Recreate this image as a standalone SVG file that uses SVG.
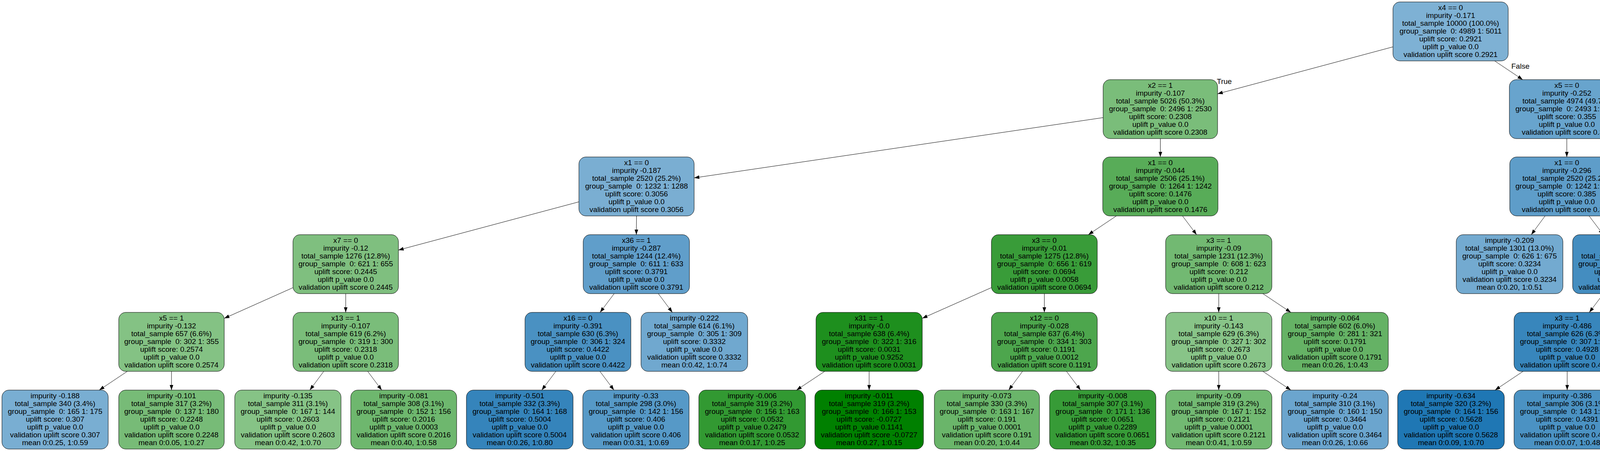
<svg xmlns="http://www.w3.org/2000/svg" width="6087" height="1155" viewBox="0 0 6087 1155">
<style>
.node rect{stroke:#000;stroke-width:1}
.node text,.lbl{font-family:"Liberation Sans",Arial,Helvetica,sans-serif;font-size:19px;fill:#000}
.node text{text-anchor:middle}
.e{stroke:#000;stroke-width:1;fill:none;marker-end:url(#arr)}
</style>
<defs>
<marker id="arr" markerUnits="userSpaceOnUse" markerWidth="14" markerHeight="10" refX="13.3" refY="4.67" orient="auto"><path d="M0,0 L13.3,4.67 L0,9.34 z" fill="#000"/></marker>
</defs>
<rect width="6087" height="1155" fill="#fff"/>
<g id="edges">
<line class="e" x1="3566" y1="120" x2="3117" y2="240.3"/>
<line class="e" x1="3826.4" y1="156" x2="3898.1" y2="204"/>
<line class="e" x1="2824" y1="301.2" x2="1777" y2="455.6"/>
<line class="e" x1="2970.5" y1="355" x2="2970.5" y2="402"/>
<line class="e" x1="4011" y1="355" x2="4011" y2="402"/>
<line class="e" x1="4158" y1="307.6" x2="4904" y2="449.3"/>
<line class="e" x1="1482" y1="516.9" x2="1020" y2="640.4"/>
<line class="e" x1="1629.5" y1="553" x2="1629" y2="601"/>
<line class="e" x1="2857.8" y1="553" x2="2786.2" y2="601"/>
<line class="e" x1="3027.2" y1="553" x2="3063.3" y2="601"/>
<line class="e" x1="3955.4" y1="553" x2="3920.1" y2="601"/>
<line class="e" x1="4068.1" y1="553" x2="4104.4" y2="601"/>
<line class="e" x1="5051.5" y1="553" x2="5052.5" y2="601"/>
<line class="e" x1="5199" y1="543.1" x2="5363" y2="616"/>
<line class="e" x1="750" y1="736.7" x2="574" y2="815.3"/>
<line class="e" x1="885" y1="752" x2="885" y2="800"/>
<line class="e" x1="1572.3" y1="752" x2="1536.2" y2="800"/>
<line class="e" x1="1685.3" y1="752" x2="1721.2" y2="800"/>
<line class="e" x1="2538" y1="736.6" x2="2361" y2="815.2"/>
<line class="e" x1="2673.5" y1="752" x2="2673.5" y2="800"/>
<line class="e" x1="3120" y1="752" x2="3120" y2="800"/>
<line class="e" x1="3232.9" y1="752" x2="3304.6" y2="800"/>
<line class="e" x1="4104.8" y1="752" x2="4068.7" y2="800"/>
<line class="e" x1="4217.7" y1="752" x2="4253.3" y2="800"/>
<line class="e" x1="4996.2" y1="752" x2="4960.3" y2="800"/>
<line class="e" x1="5108.8" y1="752" x2="5144.7" y2="800"/>
<line class="e" x1="5499" y1="752" x2="5499" y2="800"/>
<line class="e" x1="5611.7" y1="752" x2="5683.3" y2="800"/>
<line class="e" x1="325.9" y1="951" x2="254.1" y2="999"/>
<line class="e" x1="439" y1="951" x2="439" y2="999"/>
<line class="e" x1="828.8" y1="951" x2="793.2" y2="999"/>
<line class="e" x1="941.3" y1="951" x2="977.2" y2="999"/>
<line class="e" x1="1423" y1="951" x2="1387" y2="999"/>
<line class="e" x1="1535.8" y1="951" x2="1571.7" y2="999"/>
<line class="e" x1="2111.4" y1="951" x2="2039.1" y2="999"/>
<line class="e" x1="2225" y1="951" x2="2225" y2="999"/>
<line class="e" x1="2617.7" y1="951" x2="2582.3" y2="999"/>
<line class="e" x1="2730.2" y1="951" x2="2766.3" y2="999"/>
<line class="e" x1="3120" y1="951" x2="3120" y2="999"/>
<line class="e" x1="3232.9" y1="951" x2="3304.6" y2="999"/>
<line class="e" x1="3899.1" y1="951" x2="3827.4" y2="999"/>
<line class="e" x1="4012" y1="951" x2="4012" y2="999"/>
<line class="e" x1="4309.5" y1="951" x2="4309.5" y2="999"/>
<line class="e" x1="4422.2" y1="951" x2="4493.8" y2="999"/>
<line class="e" x1="4904" y1="951" x2="4904" y2="999"/>
<line class="e" x1="5016.7" y1="951" x2="5088.3" y2="999"/>
<line class="e" x1="5739.7" y1="951" x2="5703.8" y2="999"/>
<line class="e" x1="5852.5" y1="951" x2="5888.5" y2="999"/>
<text class="lbl" x="3115" y="215">True</text>
<text class="lbl" x="3869" y="176">False</text>
</g>
<g id="n-R" class="node"><rect x="3566" y="5" width="295" height="151" rx="18" fill="#7eb1d4"/><text y="26"><tspan x="3713.5">x4 == 0</tspan><tspan x="3713.5" dy="20">impurity -0.171</tspan><tspan x="3713.5" dy="20">total_sample 10000 (100.0%)</tspan><tspan x="3713.5" dy="20">group_sample&#160; 0: 4989 1: 5011</tspan><tspan x="3713.5" dy="20">uplift score: 0.2921</tspan><tspan x="3713.5" dy="20">uplift p_value 0.0</tspan><tspan x="3713.5" dy="20">validation uplift score 0.2921</tspan></text></g>
<g id="n-A" class="node"><rect x="2824" y="204" width="293" height="151" rx="18" fill="#7abd7a"/><text y="225"><tspan x="2970.5">x2 == 1</tspan><tspan x="2970.5" dy="20">impurity -0.107</tspan><tspan x="2970.5" dy="20">total_sample 5026 (50.3%)</tspan><tspan x="2970.5" dy="20">group_sample&#160; 0: 2496 1: 2530</tspan><tspan x="2970.5" dy="20">uplift score: 0.2308</tspan><tspan x="2970.5" dy="20">uplift p_value 0.0</tspan><tspan x="2970.5" dy="20">validation uplift score 0.2308</tspan></text></g>
<g id="n-B" class="node"><rect x="3864" y="204" width="294" height="151" rx="18" fill="#68a4cd"/><text y="225"><tspan x="4011">x5 == 0</tspan><tspan x="4011" dy="20">impurity -0.252</tspan><tspan x="4011" dy="20">total_sample 4974 (49.7%)</tspan><tspan x="4011" dy="20">group_sample&#160; 0: 2493 1: 2481</tspan><tspan x="4011" dy="20">uplift score: 0.355</tspan><tspan x="4011" dy="20">uplift p_value 0.0</tspan><tspan x="4011" dy="20">validation uplift score 0.355</tspan></text></g>
<g id="n-C" class="node"><rect x="1482" y="402" width="295" height="151" rx="18" fill="#7aaed2"/><text y="423"><tspan x="1629.5">x1 == 0</tspan><tspan x="1629.5" dy="20">impurity -0.187</tspan><tspan x="1629.5" dy="20">total_sample 2520 (25.2%)</tspan><tspan x="1629.5" dy="20">group_sample&#160; 0: 1232 1: 1288</tspan><tspan x="1629.5" dy="20">uplift score: 0.3056</tspan><tspan x="1629.5" dy="20">uplift p_value 0.0</tspan><tspan x="1629.5" dy="20">validation uplift score 0.3056</tspan></text></g>
<g id="n-D" class="node"><rect x="2823" y="402" width="295" height="151" rx="18" fill="#58ac58"/><text y="423"><tspan x="2970.5">x1 == 0</tspan><tspan x="2970.5" dy="20">impurity -0.044</tspan><tspan x="2970.5" dy="20">total_sample 2506 (25.1%)</tspan><tspan x="2970.5" dy="20">group_sample&#160; 0: 1264 1: 1242</tspan><tspan x="2970.5" dy="20">uplift score: 0.1476</tspan><tspan x="2970.5" dy="20">uplift p_value 0.0</tspan><tspan x="2970.5" dy="20">validation uplift score 0.1476</tspan></text></g>
<g id="n-E" class="node"><rect x="3865" y="402" width="292" height="151" rx="18" fill="#5e9dc9"/><text y="423"><tspan x="4011">x1 == 0</tspan><tspan x="4011" dy="20">impurity -0.296</tspan><tspan x="4011" dy="20">total_sample 2520 (25.2%)</tspan><tspan x="4011" dy="20">group_sample&#160; 0: 1242 1: 1278</tspan><tspan x="4011" dy="20">uplift score: 0.385</tspan><tspan x="4011" dy="20">uplift p_value 0.0</tspan><tspan x="4011" dy="20">validation uplift score 0.385</tspan></text></g>
<g id="n-F" class="node"><rect x="4904" y="402" width="295" height="151" rx="18" fill="#6fa8cf"/><text y="423"><tspan x="5051.5">x7 == 0</tspan><tspan x="5051.5" dy="20">impurity -0.226</tspan><tspan x="5051.5" dy="20">total_sample 2454 (24.5%)</tspan><tspan x="5051.5" dy="20">group_sample&#160; 0: 1251 1: 1203</tspan><tspan x="5051.5" dy="20">uplift score: 0.3362</tspan><tspan x="5051.5" dy="20">uplift p_value 0.0</tspan><tspan x="5051.5" dy="20">validation uplift score 0.3362</tspan></text></g>
<g id="n-G" class="node"><rect x="750" y="601" width="270" height="151" rx="18" fill="#7fbf7f"/><text y="622"><tspan x="885">x7 == 0</tspan><tspan x="885" dy="20">impurity -0.12</tspan><tspan x="885" dy="20">total_sample 1276 (12.8%)</tspan><tspan x="885" dy="20">group_sample&#160; 0: 621 1: 655</tspan><tspan x="885" dy="20">uplift score: 0.2445</tspan><tspan x="885" dy="20">uplift p_value 0.0</tspan><tspan x="885" dy="20">validation uplift score 0.2445</tspan></text></g>
<g id="n-H" class="node"><rect x="1493" y="601" width="272" height="151" rx="18" fill="#609eca"/><text y="622"><tspan x="1629">x36 == 1</tspan><tspan x="1629" dy="20">impurity -0.287</tspan><tspan x="1629" dy="20">total_sample 1244 (12.4%)</tspan><tspan x="1629" dy="20">group_sample&#160; 0: 611 1: 633</tspan><tspan x="1629" dy="20">uplift score: 0.3791</tspan><tspan x="1629" dy="20">uplift p_value 0.0</tspan><tspan x="1629" dy="20">validation uplift score 0.3791</tspan></text></g>
<g id="n-I" class="node"><rect x="2538" y="601" width="271" height="151" rx="18" fill="#399c39"/><text y="622"><tspan x="2673.5">x3 == 0</tspan><tspan x="2673.5" dy="20">impurity -0.01</tspan><tspan x="2673.5" dy="20">total_sample 1275 (12.8%)</tspan><tspan x="2673.5" dy="20">group_sample&#160; 0: 656 1: 619</tspan><tspan x="2673.5" dy="20">uplift score: 0.0694</tspan><tspan x="2673.5" dy="20">uplift p_value 0.0058</tspan><tspan x="2673.5" dy="20">validation uplift score 0.0694</tspan></text></g>
<g id="n-J" class="node"><rect x="2984" y="601" width="272" height="151" rx="18" fill="#72b972"/><text y="622"><tspan x="3120">x3 == 1</tspan><tspan x="3120" dy="20">impurity -0.09</tspan><tspan x="3120" dy="20">total_sample 1231 (12.3%)</tspan><tspan x="3120" dy="20">group_sample&#160; 0: 608 1: 623</tspan><tspan x="3120" dy="20">uplift score: 0.212</tspan><tspan x="3120" dy="20">uplift p_value 0.0</tspan><tspan x="3120" dy="20">validation uplift score 0.212</tspan></text></g>
<g id="n-K" class="node"><rect x="3728" y="601" width="273" height="151" rx="18" fill="#73aad0"/><text y="622"><tspan x="3864.5">impurity -0.209</tspan><tspan x="3864.5" dy="20">total_sample 1301 (13.0%)</tspan><tspan x="3864.5" dy="20">group_sample&#160; 0: 626 1: 675</tspan><tspan x="3864.5" dy="20">uplift score: 0.3234</tspan><tspan x="3864.5" dy="20">uplift p_value 0.0</tspan><tspan x="3864.5" dy="20">validation uplift score 0.3234</tspan><tspan x="3864.5" dy="20">mean 0:0.20, 1:0.51</tspan></text></g>
<g id="n-L" class="node"><rect x="4026" y="601" width="271" height="151" rx="18" fill="#448dc0"/><text y="622"><tspan x="4161.5">x6 == 0</tspan><tspan x="4161.5" dy="20">impurity -0.421</tspan><tspan x="4161.5" dy="20">total_sample 1219 (12.2%)</tspan><tspan x="4161.5" dy="20">group_sample&#160; 0: 616 1: 603</tspan><tspan x="4161.5" dy="20">uplift score: 0.4586</tspan><tspan x="4161.5" dy="20">uplift p_value 0.0</tspan><tspan x="4161.5" dy="20">validation uplift score 0.4586</tspan></text></g>
<g id="n-M" class="node"><rect x="4917" y="601" width="271" height="151" rx="18" fill="#5195c5"/><text y="622"><tspan x="5052.5">x3 == 1</tspan><tspan x="5052.5" dy="20">impurity -0.356</tspan><tspan x="5052.5" dy="20">total_sample 1250 (12.5%)</tspan><tspan x="5052.5" dy="20">group_sample&#160; 0: 630 1: 620</tspan><tspan x="5052.5" dy="20">uplift score: 0.4218</tspan><tspan x="5052.5" dy="20">uplift p_value 0.0</tspan><tspan x="5052.5" dy="20">validation uplift score 0.4218</tspan></text></g>
<g id="n-N" class="node"><rect x="5363" y="601" width="272" height="151" rx="18" fill="#82c182"/><text y="622"><tspan x="5499">x6 == 1</tspan><tspan x="5499" dy="20">impurity -0.126</tspan><tspan x="5499" dy="20">total_sample 1204 (12.0%)</tspan><tspan x="5499" dy="20">group_sample&#160; 0: 621 1: 583</tspan><tspan x="5499" dy="20">uplift score: 0.2507</tspan><tspan x="5499" dy="20">uplift p_value 0.0</tspan><tspan x="5499" dy="20">validation uplift score 0.2507</tspan></text></g>
<g id="n-G1" class="node"><rect x="304" y="800" width="270" height="151" rx="18" fill="#84c284"/><text y="821"><tspan x="439">x5 == 1</tspan><tspan x="439" dy="20">impurity -0.132</tspan><tspan x="439" dy="20">total_sample 657 (6.6%)</tspan><tspan x="439" dy="20">group_sample&#160; 0: 302 1: 355</tspan><tspan x="439" dy="20">uplift score: 0.2574</tspan><tspan x="439" dy="20">uplift p_value 0.0</tspan><tspan x="439" dy="20">validation uplift score 0.2574</tspan></text></g>
<g id="n-G2" class="node"><rect x="750" y="800" width="270" height="151" rx="18" fill="#7abd7a"/><text y="821"><tspan x="885">x13 == 1</tspan><tspan x="885" dy="20">impurity -0.107</tspan><tspan x="885" dy="20">total_sample 619 (6.2%)</tspan><tspan x="885" dy="20">group_sample&#160; 0: 319 1: 300</tspan><tspan x="885" dy="20">uplift score: 0.2318</tspan><tspan x="885" dy="20">uplift p_value 0.0</tspan><tspan x="885" dy="20">validation uplift score 0.2318</tspan></text></g>
<g id="n-H1" class="node"><rect x="1344" y="800" width="271" height="151" rx="18" fill="#4a91c2"/><text y="821"><tspan x="1479.5">x16 == 0</tspan><tspan x="1479.5" dy="20">impurity -0.391</tspan><tspan x="1479.5" dy="20">total_sample 630 (6.3%)</tspan><tspan x="1479.5" dy="20">group_sample&#160; 0: 306 1: 324</tspan><tspan x="1479.5" dy="20">uplift score: 0.4422</tspan><tspan x="1479.5" dy="20">uplift p_value 0.0</tspan><tspan x="1479.5" dy="20">validation uplift score 0.4422</tspan></text></g>
<g id="n-H2" class="node"><rect x="1641" y="800" width="273" height="151" rx="18" fill="#70a8cf"/><text y="821"><tspan x="1777.5">impurity -0.222</tspan><tspan x="1777.5" dy="20">total_sample 614 (6.1%)</tspan><tspan x="1777.5" dy="20">group_sample&#160; 0: 305 1: 309</tspan><tspan x="1777.5" dy="20">uplift score: 0.3332</tspan><tspan x="1777.5" dy="20">uplift p_value 0.0</tspan><tspan x="1777.5" dy="20">validation uplift score 0.3332</tspan><tspan x="1777.5" dy="20">mean 0:0.42, 1:0.74</tspan></text></g>
<g id="n-I1" class="node"><rect x="2089" y="800" width="272" height="151" rx="18" fill="#1e8f1e"/><text y="821"><tspan x="2225">x31 == 1</tspan><tspan x="2225" dy="20">impurity -0.0</tspan><tspan x="2225" dy="20">total_sample 638 (6.4%)</tspan><tspan x="2225" dy="20">group_sample&#160; 0: 322 1: 316</tspan><tspan x="2225" dy="20">uplift score: 0.0031</tspan><tspan x="2225" dy="20">uplift p_value 0.9252</tspan><tspan x="2225" dy="20">validation uplift score 0.0031</tspan></text></g>
<g id="n-I2" class="node"><rect x="2538" y="800" width="271" height="151" rx="18" fill="#4da64d"/><text y="821"><tspan x="2673.5">x12 == 0</tspan><tspan x="2673.5" dy="20">impurity -0.028</tspan><tspan x="2673.5" dy="20">total_sample 637 (6.4%)</tspan><tspan x="2673.5" dy="20">group_sample&#160; 0: 334 1: 303</tspan><tspan x="2673.5" dy="20">uplift score: 0.1191</tspan><tspan x="2673.5" dy="20">uplift p_value 0.0012</tspan><tspan x="2673.5" dy="20">validation uplift score 0.1191</tspan></text></g>
<g id="n-J1" class="node"><rect x="2984" y="800" width="272" height="151" rx="18" fill="#88c488"/><text y="821"><tspan x="3120">x10 == 1</tspan><tspan x="3120" dy="20">impurity -0.143</tspan><tspan x="3120" dy="20">total_sample 629 (6.3%)</tspan><tspan x="3120" dy="20">group_sample&#160; 0: 327 1: 302</tspan><tspan x="3120" dy="20">uplift score: 0.2673</tspan><tspan x="3120" dy="20">uplift p_value 0.0</tspan><tspan x="3120" dy="20">validation uplift score 0.2673</tspan></text></g>
<g id="n-J2" class="node"><rect x="3281" y="800" width="273" height="151" rx="18" fill="#65b265"/><text y="821"><tspan x="3417.5">impurity -0.064</tspan><tspan x="3417.5" dy="20">total_sample 602 (6.0%)</tspan><tspan x="3417.5" dy="20">group_sample&#160; 0: 281 1: 321</tspan><tspan x="3417.5" dy="20">uplift score: 0.1791</tspan><tspan x="3417.5" dy="20">uplift p_value 0.0</tspan><tspan x="3417.5" dy="20">validation uplift score 0.1791</tspan><tspan x="3417.5" dy="20">mean 0:0.26, 1:0.43</tspan></text></g>
<g id="n-L1" class="node"><rect x="3876" y="800" width="272" height="151" rx="18" fill="#3886bc"/><text y="821"><tspan x="4012">x3 == 1</tspan><tspan x="4012" dy="20">impurity -0.486</tspan><tspan x="4012" dy="20">total_sample 626 (6.3%)</tspan><tspan x="4012" dy="20">group_sample&#160; 0: 307 1: 319</tspan><tspan x="4012" dy="20">uplift score: 0.4928</tspan><tspan x="4012" dy="20">uplift p_value 0.0</tspan><tspan x="4012" dy="20">validation uplift score 0.4928</tspan></text></g>
<g id="n-L2" class="node"><rect x="4175" y="800" width="269" height="151" rx="18" fill="#468fc1"/><text y="821"><tspan x="4309.5">x8 == 0</tspan><tspan x="4309.5" dy="20">impurity -0.407</tspan><tspan x="4309.5" dy="20">total_sample 593 (5.9%)</tspan><tspan x="4309.5" dy="20">group_sample&#160; 0: 309 1: 284</tspan><tspan x="4309.5" dy="20">uplift score: 0.4511</tspan><tspan x="4309.5" dy="20">uplift p_value 0.0</tspan><tspan x="4309.5" dy="20">validation uplift score 0.4511</tspan></text></g>
<g id="n-M1" class="node"><rect x="4769" y="800" width="270" height="151" rx="18" fill="#3786bc"/><text y="821"><tspan x="4904">x6 == 0</tspan><tspan x="4904" dy="20">impurity -0.489</tspan><tspan x="4904" dy="20">total_sample 629 (6.3%)</tspan><tspan x="4904" dy="20">group_sample&#160; 0: 325 1: 304</tspan><tspan x="4904" dy="20">uplift score: 0.4943</tspan><tspan x="4904" dy="20">uplift p_value 0.0</tspan><tspan x="4904" dy="20">validation uplift score 0.4943</tspan></text></g>
<g id="n-M2" class="node"><rect x="5066" y="800" width="270" height="151" rx="18" fill="#62a0ca"/><text y="821"><tspan x="5201">impurity -0.278</tspan><tspan x="5201" dy="20">total_sample 621 (6.2%)</tspan><tspan x="5201" dy="20">group_sample&#160; 0: 305 1: 316</tspan><tspan x="5201" dy="20">uplift score: 0.3731</tspan><tspan x="5201" dy="20">uplift p_value 0.0</tspan><tspan x="5201" dy="20">validation uplift score 0.3731</tspan><tspan x="5201" dy="20">mean 0:0.26, 1:0.62</tspan></text></g>
<g id="n-N1" class="node"><rect x="5363" y="800" width="272" height="151" rx="18" fill="#5eaf5e"/><text y="821"><tspan x="5499">impurity -0.051</tspan><tspan x="5499" dy="20">total_sample 626 (6.3%)</tspan><tspan x="5499" dy="20">group_sample&#160; 0: 328 1: 298</tspan><tspan x="5499" dy="20">uplift score: 0.1603</tspan><tspan x="5499" dy="20">uplift p_value 0.0</tspan><tspan x="5499" dy="20">validation uplift score 0.1603</tspan><tspan x="5499" dy="20">mean 0:0.84, 1:0.97</tspan></text></g>
<g id="n-N2" class="node"><rect x="5661" y="800" width="270" height="151" rx="18" fill="#71a9cf"/><text y="821"><tspan x="5796">x21 == 0</tspan><tspan x="5796" dy="20">impurity -0.219</tspan><tspan x="5796" dy="20">total_sample 578 (5.8%)</tspan><tspan x="5796" dy="20">group_sample&#160; 0: 293 1: 285</tspan><tspan x="5796" dy="20">uplift score: 0.3308</tspan><tspan x="5796" dy="20">uplift p_value 0.0</tspan><tspan x="5796" dy="20">validation uplift score 0.3308</tspan></text></g>
<g id="n-G1a" class="node"><rect x="5" y="999" width="272" height="151" rx="18" fill="#79aed2"/><text y="1020"><tspan x="141">impurity -0.188</tspan><tspan x="141" dy="20">total_sample 340 (3.4%)</tspan><tspan x="141" dy="20">group_sample&#160; 0: 165 1: 175</tspan><tspan x="141" dy="20">uplift score: 0.307</tspan><tspan x="141" dy="20">uplift p_value 0.0</tspan><tspan x="141" dy="20">validation uplift score 0.307</tspan><tspan x="141" dy="20">mean 0:0.25, 1:0.59</tspan></text></g>
<g id="n-G1b" class="node"><rect x="304" y="999" width="270" height="151" rx="18" fill="#77bb77"/><text y="1020"><tspan x="439">impurity -0.101</tspan><tspan x="439" dy="20">total_sample 317 (3.2%)</tspan><tspan x="439" dy="20">group_sample&#160; 0: 137 1: 180</tspan><tspan x="439" dy="20">uplift score: 0.2248</tspan><tspan x="439" dy="20">uplift p_value 0.0</tspan><tspan x="439" dy="20">validation uplift score 0.2248</tspan><tspan x="439" dy="20">mean 0:0.05, 1:0.27</tspan></text></g>
<g id="n-G2a" class="node"><rect x="601" y="999" width="272" height="151" rx="18" fill="#86c386"/><text y="1020"><tspan x="737">impurity -0.135</tspan><tspan x="737" dy="20">total_sample 311 (3.1%)</tspan><tspan x="737" dy="20">group_sample&#160; 0: 167 1: 144</tspan><tspan x="737" dy="20">uplift score: 0.2603</tspan><tspan x="737" dy="20">uplift p_value 0.0</tspan><tspan x="737" dy="20">validation uplift score 0.2603</tspan><tspan x="737" dy="20">mean 0:0.42, 1:0.70</tspan></text></g>
<g id="n-G2b" class="node"><rect x="898" y="999" width="271" height="151" rx="18" fill="#6eb76e"/><text y="1020"><tspan x="1033.5">impurity -0.081</tspan><tspan x="1033.5" dy="20">total_sample 308 (3.1%)</tspan><tspan x="1033.5" dy="20">group_sample&#160; 0: 152 1: 156</tspan><tspan x="1033.5" dy="20">uplift score: 0.2016</tspan><tspan x="1033.5" dy="20">uplift p_value 0.0003</tspan><tspan x="1033.5" dy="20">validation uplift score 0.2016</tspan><tspan x="1033.5" dy="20">mean 0:0.40, 1:0.58</tspan></text></g>
<g id="n-H1a" class="node"><rect x="1194" y="999" width="273" height="151" rx="18" fill="#3584bb"/><text y="1020"><tspan x="1330.5">impurity -0.501</tspan><tspan x="1330.5" dy="20">total_sample 332 (3.3%)</tspan><tspan x="1330.5" dy="20">group_sample&#160; 0: 164 1: 168</tspan><tspan x="1330.5" dy="20">uplift score: 0.5004</tspan><tspan x="1330.5" dy="20">uplift p_value 0.0</tspan><tspan x="1330.5" dy="20">validation uplift score 0.5004</tspan><tspan x="1330.5" dy="20">mean 0:0.26, 1:0.80</tspan></text></g>
<g id="n-H1b" class="node"><rect x="1492" y="999" width="272" height="151" rx="18" fill="#5699c7"/><text y="1020"><tspan x="1628">impurity -0.33</tspan><tspan x="1628" dy="20">total_sample 298 (3.0%)</tspan><tspan x="1628" dy="20">group_sample&#160; 0: 142 1: 156</tspan><tspan x="1628" dy="20">uplift score: 0.406</tspan><tspan x="1628" dy="20">uplift p_value 0.0</tspan><tspan x="1628" dy="20">validation uplift score 0.406</tspan><tspan x="1628" dy="20">mean 0:0.31, 1:0.69</tspan></text></g>
<g id="n-I1a" class="node"><rect x="1789" y="999" width="273" height="151" rx="18" fill="#329932"/><text y="1020"><tspan x="1925.5">impurity -0.006</tspan><tspan x="1925.5" dy="20">total_sample 319 (3.2%)</tspan><tspan x="1925.5" dy="20">group_sample&#160; 0: 156 1: 163</tspan><tspan x="1925.5" dy="20">uplift score: 0.0532</tspan><tspan x="1925.5" dy="20">uplift p_value 0.2479</tspan><tspan x="1925.5" dy="20">validation uplift score 0.0532</tspan><tspan x="1925.5" dy="20">mean 0:0.17, 1:0.25</tspan></text></g>
<g id="n-I1b" class="node"><rect x="2086" y="999" width="278" height="151" rx="18" fill="#008000"/><text y="1020"><tspan x="2225">impurity -0.011</tspan><tspan x="2225" dy="20">total_sample 319 (3.2%)</tspan><tspan x="2225" dy="20">group_sample&#160; 0: 166 1: 153</tspan><tspan x="2225" dy="20">uplift score: -0.0727</tspan><tspan x="2225" dy="20">uplift p_value 0.1141</tspan><tspan x="2225" dy="20">validation uplift score -0.0727</tspan><tspan x="2225" dy="20">mean 0:0.27, 1:0.15</tspan></text></g>
<g id="n-I2a" class="node"><rect x="2392" y="999" width="269" height="151" rx="18" fill="#6ab56a"/><text y="1020"><tspan x="2526.5">impurity -0.073</tspan><tspan x="2526.5" dy="20">total_sample 330 (3.3%)</tspan><tspan x="2526.5" dy="20">group_sample&#160; 0: 163 1: 167</tspan><tspan x="2526.5" dy="20">uplift score: 0.191</tspan><tspan x="2526.5" dy="20">uplift p_value 0.0001</tspan><tspan x="2526.5" dy="20">validation uplift score 0.191</tspan><tspan x="2526.5" dy="20">mean 0:0.20, 1:0.44</tspan></text></g>
<g id="n-I2b" class="node"><rect x="2687" y="999" width="272" height="151" rx="18" fill="#379b37"/><text y="1020"><tspan x="2823">impurity -0.008</tspan><tspan x="2823" dy="20">total_sample 307 (3.1%)</tspan><tspan x="2823" dy="20">group_sample&#160; 0: 171 1: 136</tspan><tspan x="2823" dy="20">uplift score: 0.0651</tspan><tspan x="2823" dy="20">uplift p_value 0.2289</tspan><tspan x="2823" dy="20">validation uplift score 0.0651</tspan><tspan x="2823" dy="20">mean 0:0.32, 1:0.35</tspan></text></g>
<g id="n-J1a" class="node"><rect x="2984" y="999" width="272" height="151" rx="18" fill="#72b972"/><text y="1020"><tspan x="3120">impurity -0.09</tspan><tspan x="3120" dy="20">total_sample 319 (3.2%)</tspan><tspan x="3120" dy="20">group_sample&#160; 0: 167 1: 152</tspan><tspan x="3120" dy="20">uplift score: 0.2121</tspan><tspan x="3120" dy="20">uplift p_value 0.0001</tspan><tspan x="3120" dy="20">validation uplift score 0.2121</tspan><tspan x="3120" dy="20">mean 0:0.41, 1:0.59</tspan></text></g>
<g id="n-J1b" class="node"><rect x="3281" y="999" width="273" height="151" rx="18" fill="#6ba5ce"/><text y="1020"><tspan x="3417.5">impurity -0.24</tspan><tspan x="3417.5" dy="20">total_sample 310 (3.1%)</tspan><tspan x="3417.5" dy="20">group_sample&#160; 0: 160 1: 150</tspan><tspan x="3417.5" dy="20">uplift score: 0.3464</tspan><tspan x="3417.5" dy="20">uplift p_value 0.0</tspan><tspan x="3417.5" dy="20">validation uplift score 0.3464</tspan><tspan x="3417.5" dy="20">mean 0:0.26, 1:0.66</tspan></text></g>
<g id="n-L1a" class="node"><rect x="3578" y="999" width="273" height="151" rx="18" fill="#1f77b4"/><text y="1020"><tspan x="3714.5">impurity -0.634</tspan><tspan x="3714.5" dy="20">total_sample 320 (3.2%)</tspan><tspan x="3714.5" dy="20">group_sample&#160; 0: 164 1: 156</tspan><tspan x="3714.5" dy="20">uplift score: 0.5628</tspan><tspan x="3714.5" dy="20">uplift p_value 0.0</tspan><tspan x="3714.5" dy="20">validation uplift score 0.5628</tspan><tspan x="3714.5" dy="20">mean 0:0.09, 1:0.70</tspan></text></g>
<g id="n-L1b" class="node"><rect x="3876" y="999" width="272" height="151" rx="18" fill="#4b92c3"/><text y="1020"><tspan x="4012">impurity -0.386</tspan><tspan x="4012" dy="20">total_sample 306 (3.1%)</tspan><tspan x="4012" dy="20">group_sample&#160; 0: 143 1: 163</tspan><tspan x="4012" dy="20">uplift score: 0.4391</tspan><tspan x="4012" dy="20">uplift p_value 0.0</tspan><tspan x="4012" dy="20">validation uplift score 0.4391</tspan><tspan x="4012" dy="20">mean 0:0.07, 1:0.48</tspan></text></g>
<g id="n-L2a" class="node"><rect x="4175" y="999" width="269" height="151" rx="18" fill="#2d80b9"/><text y="1020"><tspan x="4309.5">impurity -0.545</tspan><tspan x="4309.5" dy="20">total_sample 310 (3.1%)</tspan><tspan x="4309.5" dy="20">group_sample&#160; 0: 160 1: 150</tspan><tspan x="4309.5" dy="20">uplift score: 0.5219</tspan><tspan x="4309.5" dy="20">uplift p_value 0.0</tspan><tspan x="4309.5" dy="20">validation uplift score 0.5219</tspan><tspan x="4309.5" dy="20">mean 0:0.17, 1:0.74</tspan></text></g>
<g id="n-L2b" class="node"><rect x="4470" y="999" width="273" height="151" rx="18" fill="#609fca"/><text y="1020"><tspan x="4606.5">impurity -0.285</tspan><tspan x="4606.5" dy="20">total_sample 283 (2.8%)</tspan><tspan x="4606.5" dy="20">group_sample&#160; 0: 149 1: 134</tspan><tspan x="4606.5" dy="20">uplift score: 0.3773</tspan><tspan x="4606.5" dy="20">uplift p_value 0.0</tspan><tspan x="4606.5" dy="20">validation uplift score 0.3773</tspan><tspan x="4606.5" dy="20">mean 0:0.58, 1:0.91</tspan></text></g>
<g id="n-M1a" class="node"><rect x="4769" y="999" width="270" height="151" rx="18" fill="#237ab6"/><text y="1020"><tspan x="4904">impurity -0.606</tspan><tspan x="4904" dy="20">total_sample 332 (3.3%)</tspan><tspan x="4904" dy="20">group_sample&#160; 0: 172 1: 160</tspan><tspan x="4904" dy="20">uplift score: 0.5503</tspan><tspan x="4904" dy="20">uplift p_value 0.0</tspan><tspan x="4904" dy="20">validation uplift score 0.5503</tspan><tspan x="4904" dy="20">mean 0:0.17, 1:0.75</tspan></text></g>
<g id="n-M1b" class="node"><rect x="5066" y="999" width="270" height="151" rx="18" fill="#428cc0"/><text y="1020"><tspan x="5201">impurity -0.43</tspan><tspan x="5201" dy="20">total_sample 297 (3.0%)</tspan><tspan x="5201" dy="20">group_sample&#160; 0: 153 1: 144</tspan><tspan x="5201" dy="20">uplift score: 0.4635</tspan><tspan x="5201" dy="20">uplift p_value 0.0</tspan><tspan x="5201" dy="20">validation uplift score 0.4635</tspan><tspan x="5201" dy="20">mean 0:0.47, 1:0.92</tspan></text></g>
<g id="n-N2a" class="node"><rect x="5511" y="999" width="273" height="151" rx="18" fill="#7cafd3"/><text y="1020"><tspan x="5647.5">impurity -0.18</tspan><tspan x="5647.5" dy="20">total_sample 310 (3.1%)</tspan><tspan x="5647.5" dy="20">group_sample&#160; 0: 171 1: 139</tspan><tspan x="5647.5" dy="20">uplift score: 0.3002</tspan><tspan x="5647.5" dy="20">uplift p_value 0.0</tspan><tspan x="5647.5" dy="20">validation uplift score 0.3002</tspan><tspan x="5647.5" dy="20">mean 0:0.56, 1:0.84</tspan></text></g>
<g id="n-N2b" class="node"><rect x="5810" y="999" width="270" height="151" rx="18" fill="#5899c7"/><text y="1020"><tspan x="5945">impurity -0.323</tspan><tspan x="5945" dy="20">total_sample 268 (2.7%)</tspan><tspan x="5945" dy="20">group_sample&#160; 0: 122 1: 146</tspan><tspan x="5945" dy="20">uplift score: 0.4019</tspan><tspan x="5945" dy="20">uplift p_value 0.0</tspan><tspan x="5945" dy="20">validation uplift score 0.4019</tspan><tspan x="5945" dy="20">mean 0:0.41, 1:0.87</tspan></text></g>
</svg>
